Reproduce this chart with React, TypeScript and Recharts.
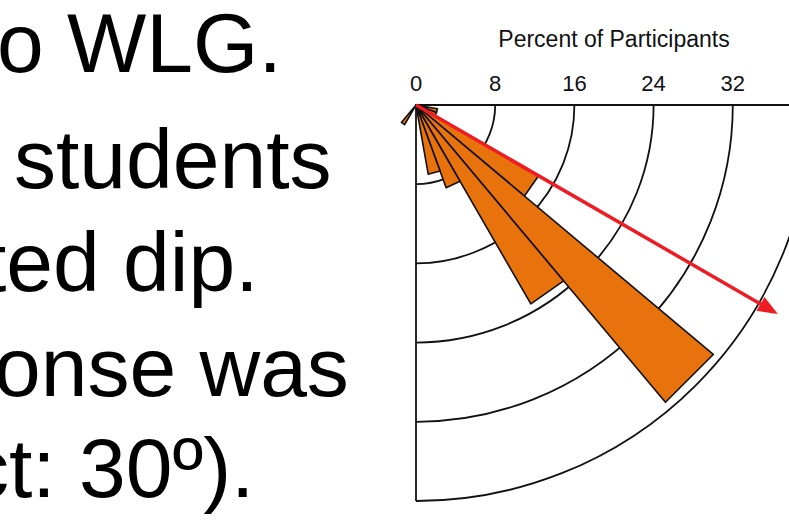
import React from 'react';
import {
  RadialBarChart,
  RadialBar,
  PolarAngleAxis,
  PolarRadiusAxis,
  PolarGrid,
  LineChart,
  Line,
  XAxis,
  YAxis,
} from 'recharts';

// dip-angle bins (degrees below horizontal), 10° wide
const dipBins = [
  '0-10', '10-20', '20-30', '30-40', '40-50', '50-60', '60-70', '70-80', '80-90',
  '90-100', '100-110', '110-120', '120-130', '130-140', '140-150', '150-160', '160-170', '170-180',
];
// percent of participants in each bin
const percentValues = [0, 2.2, 2.2, 14.3, 39.2, 23.2, 8.9, 7.1, 0, 0, 0, 0, 2.3, 0, 0, 0, 0, 0];
const radiusTicks = [0, 8, 16, 24, 32, 40];

// expected dip arrow
const expectedDip = 30;
const arrowLength = 41.8;

const slideLines = ['o WLG.', 'students', 'ted dip.', 'onse was', 'ct: 30º).'];
const titleText = 'Percent of Participants';

const FONT = '"Liberation Sans", Arial, sans-serif';
const CX = 416;
const CY = 105;
const OUTER = 396;
// recharts puts the first category band one band-width past startAngle
const BAND_SHIFT = 10;

const roseData = dipBins.map((bin, i) => ({ bin, pct: percentValues[i] }));

const rad = Math.PI / 180;
const arrowData = [
  { x: 0, y: 0 },
  {
    x: arrowLength * Math.cos(expectedDip * rad),
    y: -arrowLength * Math.sin(expectedDip * rad),
  },
];

// straight-ended wedge like the original rose plot
const Wedge = (props: any) => {
  const { cx, cy, innerRadius = 0, outerRadius, startAngle, endAngle } = props;
  if (!(outerRadius > innerRadius + 0.5)) return <g />;
  const pt = (r: number, a: number) => [cx + r * Math.cos(-a * rad), cy + r * Math.sin(-a * rad)];
  const [x1, y1] = pt(outerRadius, startAngle);
  const [x2, y2] = pt(outerRadius, endAngle);
  return (
    <path
      d={`M${cx},${cy}L${x1},${y1}L${x2},${y2}Z`}
      fill="#E8720C"
      stroke="#111"
      strokeWidth={1.6}
      strokeLinejoin="round"
    />
  );
};

const RadiusTick = (props: any) => {
  const { x, y, payload } = props;
  if (payload.value === radiusTicks[radiusTicks.length - 1]) return <g />;
  return (
    <text x={x} y={y - 14} textAnchor="middle" fontSize={22} fontFamily={FONT} fill="#111">
      {payload.value}
    </text>
  );
};

const ArrowHead = (props: any) => {
  const { cx, cy, index } = props;
  if (index !== arrowData.length - 1) return <g key={index} />;
  const dx = Math.cos(expectedDip * rad);
  const dy = Math.sin(expectedDip * rad);
  const tipX = cx + 4 * dx;
  const tipY = cy + 4 * dy;
  const bx = cx - 16 * dx;
  const by = cy - 16 * dy;
  const w = 8;
  const pts = `${tipX},${tipY} ${bx - w * dy},${by + w * dx} ${bx + w * dy},${by - w * dx}`;
  return <polygon key={index} points={pts} fill="#EE1D23" />;
};

export default function App() {
  return (
    <div style={{ position: 'relative', width: 789, height: 521, overflow: 'hidden', background: '#fff' }}>
      <style>{`
        body { margin: 0; }
        .recharts-polar-grid-concentric-circle,
        .recharts-polar-grid-concentric-polygon { clip-path: url(#quadClip); }
      `}</style>

      <svg width={789} height={521} style={{ position: 'absolute', left: 0, top: 0 }}>
        <defs>
          <clipPath id="quadClip" clipPathUnits="userSpaceOnUse">
            <rect x={CX} y={CY} width={800} height={800} />
          </clipPath>
        </defs>
        <g fontFamily={FONT} fontSize={84} fill="#000">
          <text x={-3} y={72}>{slideLines[0]}</text>
          <text x={14} y={188}>{slideLines[1]}</text>
          <text x={-17} y={291}>{slideLines[2]}</text>
          <text x={-6} y={396}>{slideLines[3]}</text>
          <text x={-33} y={497}>{slideLines[4]}</text>
        </g>
        <text x={614} y={47} textAnchor="middle" fontFamily={FONT} fontSize={23} fill="#111">
          {titleText}
        </text>
      </svg>

      <div style={{ position: 'absolute', left: 0, top: 0 }}>
        <RadialBarChart
          width={789}
          height={521}
          data={roseData}
          layout="centric"
          cx={CX}
          cy={CY}
          innerRadius={0}
          outerRadius={OUTER}
          startAngle={-BAND_SHIFT}
          endAngle={-180 - BAND_SHIFT}
          barCategoryGap={0}
          margin={{ top: 0, right: 0, bottom: 0, left: 0 }}
        >
          <PolarGrid
            gridType="circle"
            polarAngles={[0, -90]}
            stroke="#111"
            strokeWidth={1.8}
          />
          <PolarAngleAxis type="category" dataKey="bin" tick={false} axisLine={false} tickLine={false} />
          <PolarRadiusAxis
            type="number"
            angle={0}
            domain={[0, 40]}
            ticks={radiusTicks}
            axisLine={false}
            tick={RadiusTick}
          />
          <RadialBar dataKey="pct" shape={Wedge} isAnimationActive={false} />
        </RadialBarChart>
      </div>

      <div style={{ position: 'absolute', left: 0, top: 0 }}>
        <LineChart
          width={CX + OUTER}
          height={521}
          data={arrowData}
          margin={{ top: CY, left: CX, right: 0, bottom: 521 - CY - OUTER }}
        >
          <XAxis type="number" dataKey="x" domain={[0, 40]} hide />
          <YAxis type="number" domain={[-40, 0]} hide />
          <Line
            type="linear"
            dataKey="y"
            stroke="#EE1D23"
            strokeWidth={3.5}
            dot={ArrowHead}
            activeDot={false}
            isAnimationActive={false}
          />
        </LineChart>
      </div>
    </div>
  );
}
